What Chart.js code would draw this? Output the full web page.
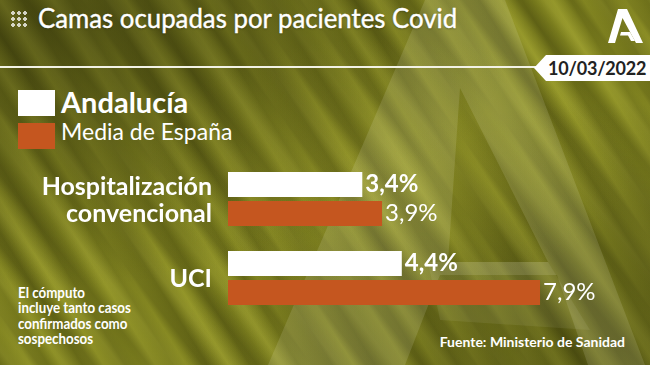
<!DOCTYPE html>
<html>
<head>
<meta charset="utf-8">
<script src="https://cdn.jsdelivr.net/npm/chart.js@4.4.0/dist/chart.umd.min.js"></script>
<style>
  html, body { margin: 0; padding: 0; }
  body {
    width: 650px; height: 365px; overflow: hidden; position: relative;
    font-family: Lato, "Open Sans", sans-serif; color: #fff;
    background-color: #7f821f;
    background-image:
      radial-gradient(ellipse at 8% 5%, rgba(35,35,8,0.5), rgba(35,35,8,0) 55%),
      radial-gradient(ellipse at 60% 45%, rgba(200,200,60,0.18), rgba(200,200,60,0) 45%),
      radial-gradient(ellipse at 95% 95%, rgba(35,35,8,0.35), rgba(35,35,8,0) 50%),
      repeating-linear-gradient(52deg,
        rgba(30,30,0,0) 0px, rgba(220,220,90,0.12) 9px, rgba(30,30,0,0) 23px,
        rgba(30,30,0,0.15) 31px, rgba(30,30,0,0) 43px),
      repeating-linear-gradient(58deg,
        rgba(30,30,0,0.22) 0px, rgba(30,30,0,0.05) 14px,
        rgba(220,220,80,0.18) 26px, rgba(30,30,0,0.12) 41px,
        rgba(190,190,60,0.12) 52px, rgba(30,30,0,0.25) 70px,
        rgba(210,210,70,0.2) 88px, rgba(30,30,0,0.22) 106px);
  }
  .abs { position: absolute; white-space: nowrap; }
  #chartBox { position: absolute; left: 0; top: 0; width: 650px; height: 365px; }
  .title { left: 38px; top: 1px; font-size: 27px; transform: scaleX(0.955); transform-origin: left top;
    -webkit-text-stroke: 0.4px #fff; text-shadow: 0 1px 2px rgba(0,0,0,0.3); }
  .dots { left: 10px; top: 10px; width: 18px; height: 18px;
    background-image: radial-gradient(circle, rgba(255,255,255,0.75) 1.8px, transparent 2px);
    background-size: 6px 6px; }
  .rule { left: 0; top: 66px; width: 548px; height: 2px; background: #f2f2e6; }
  .date { left: 534px; top: 55px; width: 116px; height: 26px; background: #fff;
    clip-path: polygon(12px 0, 100% 0, 100% 100%, 12px 100%, 0 50%); }
  .dateTxt { left: 548px; top: 55px; font-size: 18px; font-weight: bold; color: #222; line-height: 26px; letter-spacing: -0.2px; }
  .sw { width: 37px; height: 26px; }
  .leg1 { left: 61px; top: 84px; font-size: 29px; font-weight: bold; }
  .leg2 { left: 61px; top: 117px; font-size: 23px; }
  .note { left: 18px; top: 285px; font-size: 15.5px; line-height: 15.3px; font-weight: bold;
    transform: scaleX(0.86); transform-origin: left top; }
  .src { right: 25px; top: 333px; font-size: 14px; font-weight: bold; }
</style>
</head>
<body>
<svg class="abs" style="left:0;top:0" width="650" height="365">
  <path fill-rule="evenodd" fill="rgba(255,255,235,0.12)"
    d="M425 0 L505 0 L645 365 L588 365 L557 275 L440 275 L405 365 L268 365 Z
       M460 88 L548 262 L448 262 Z"/>
  <path fill="rgba(255,255,235,0.07)" d="M428 262 L548 262 L590 330 L440 320 Z"/>
  <path fill="#fff" d="M618 9 L627 9 L643 43 L636 43 L622.5 18 L615 43 L608 43 Z"/>
  <path fill="#fff" d="M621 32 L630 32 L635 41 L631 41 L628 35.5 L620 35.5 Z"/>
</svg>
<div class="abs dots"></div>
<div class="abs title">Camas ocupadas por pacientes Covid</div>
<div class="abs rule"></div>
<div class="abs date"></div>
<div class="abs dateTxt">10/03/2022</div>
<div class="abs sw" style="left:18px;top:90px;background:#fff"></div>
<div class="abs sw" style="left:18px;top:123px;background:#c5561f"></div>
<div class="abs leg1" id="leg1"></div>
<div class="abs leg2" id="leg2"></div>
<div class="abs note">El cómputo<br>incluye tanto casos<br>confirmados como<br>sospechosos</div>
<div class="abs src">Fuente: Ministerio de Sanidad</div>
<div id="chartBox"><canvas id="chart"></canvas></div>
<script>
const categories = [["Hospitalización", "convencional"], "UCI"];
const seriesNames = ["Andalucía", "Media de España"];
const andalucia = [3.4, 4.4];
const espana = [3.9, 7.9];

const barColors = ["#ffffff", "#c5561f"];

document.getElementById("leg1").textContent = seriesNames[0];
document.getElementById("leg2").textContent = seriesNames[1];

const fmt = (v) => v.toFixed(1).replace(".", ",") + "%";

// value labels at the end of each bar
const valueLabels = {
   id: "valueLabels",
   afterDatasetsDraw(chart) {
      const ctx = chart.ctx;
      ctx.save();
      chart.data.datasets.forEach((ds, i) => {
         const meta = chart.getDatasetMeta(i);
         ctx.font = (i === 0 ? "bold " : "") + "24px Lato, sans-serif";
         ctx.fillStyle = "#fff";
         ctx.textBaseline = "middle";
         meta.data.forEach((bar, j) => {
            ctx.fillText(fmt(ds.data[j]), bar.x + 3, bar.y);
         });
      });
      ctx.restore();
   },
};

const config = {
   type: "bar",
   data: {
      labels: categories,
      datasets: [
         { label: seriesNames[0], data: andalucia, backgroundColor: barColors[0] },
         { label: seriesNames[1], data: espana, backgroundColor: barColors[1] },
      ],
   },
   options: {
      indexAxis: "y",
      responsive: false,
      animation: false,
      categoryPercentage: 0.734,
      barPercentage: 0.86,
      layout: { padding: { left: 0, right: 27, top: 159.5, bottom: 47.5 } },
      plugins: { legend: { display: false }, tooltip: { enabled: false } },
      scales: {
         x: { display: false, min: 0, max: 10 },
         y: {
            grid: { display: false },
            border: { display: false },
            ticks: {
               color: "#fff",
               padding: 8,
               labelOffset: 1,
               font: { family: "Lato, sans-serif", size: 25, weight: "bold", lineHeight: 1.08 },
            },
            afterFit: (scale) => { scale.width = 228; },
         },
      },
   },
   plugins: [valueLabels],
};

const canvas = document.getElementById("chart");
canvas.width = 650;
canvas.height = 365;
const myChart = new Chart(canvas, config);
</script>
</body>
</html>
